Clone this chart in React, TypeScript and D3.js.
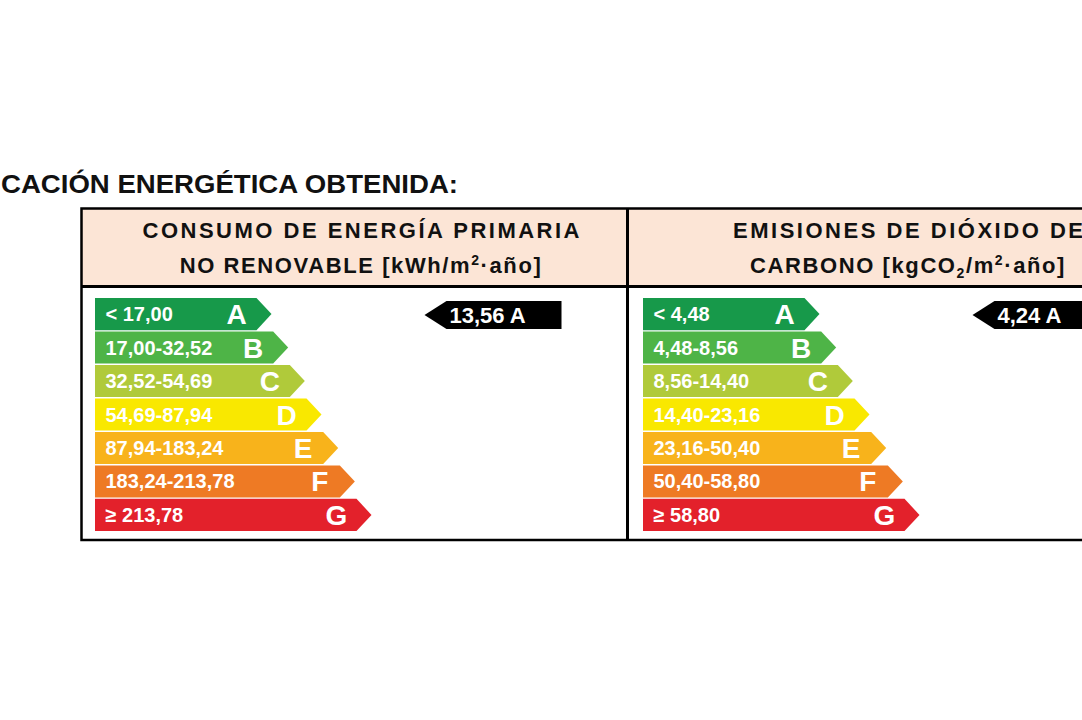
import React, { useEffect, useRef } from 'react';
import * as d3 from 'd3';

// Energy classes, from best to worst
const classes = ['A', 'B', 'C', 'D', 'E', 'F', 'G'];
const classColors = ['#17994a', '#4eb447', '#b0ca3a', '#f9e800', '#f8b31b', '#ee7a24', '#e3212b'];

const energyRanges = ['< 17,00', '17,00-32,52', '32,52-54,69', '54,69-87,94', '87,94-183,24', '183,24-213,78', '≥ 213,78'];
const co2Ranges = ['< 4,48', '4,48-8,56', '8,56-14,40', '14,40-23,16', '23,16-50,40', '50,40-58,80', '≥ 58,80'];

const energyValue = '13,56';
const energyClass = 'A';
const co2Value = '4,24';
const co2Class = 'A';

const titleText = 'CACIÓN ENERGÉTICA OBTENIDA:';

// header lines: [text, 'n' | 'sup' | 'sub']
const energyHeader: [string, string][][] = [
  [['CONSUMO DE ENERGÍA PRIMARIA', 'n']],
  [['NO RENOVABLE [kWh/m', 'n'], ['2', 'sup'], ['·año]', 'n']],
];
const co2Header: [string, string][][] = [
  [['EMISIONES DE DIÓXIDO DE', 'n']],
  [['CARBONO [kgCO', 'n'], ['2', 'sub'], ['/m', 'n'], ['2', 'sup'], ['·año]', 'n']],
];

const FONT = '"Liberation Sans", Arial, sans-serif';

export default function App() {
  const svgRef = useRef<SVGSVGElement>(null);

  useEffect(() => {
    if (!svgRef.current) return;
    const svg = d3.select(svgRef.current);
    svg.selectAll('*').remove();

    const W = 1082;
    const colW = 548;
    const tableLeft = 81.5;
    const tableTop = 208.5;
    const headerBottom = 286.5;
    const tableBottom = 540;

    // Title
    svg.append('text')
      .attr('x', 1)
      .attr('y', 193)
      .attr('font-family', FONT)
      .attr('font-weight', 'bold')
      .attr('font-size', 26)
      .attr('textLength', 457)
      .attr('lengthAdjust', 'spacingAndGlyphs')
      .attr('fill', '#111')
      .text(titleText);

    // Header background
    svg.append('rect')
      .attr('x', tableLeft).attr('y', tableTop)
      .attr('width', W - tableLeft + 10).attr('height', headerBottom - tableTop)
      .attr('fill', '#fce5d6');

    const y = d3.scaleBand<string>().domain(classes).range([298, 531]).paddingInner(0.04);
    const tip = d3.scaleLinear().domain([0, classes.length - 1]).range([190, 290]);
    const color = d3.scaleOrdinal<string, string>().domain(classes).range(classColors);

    const panels = [
      { x0: tableLeft, header: energyHeader, ranges: energyRanges, value: energyValue, cls: energyClass, center: 361, line1Len: 437 },
      { x0: tableLeft + colW, header: co2Header, ranges: co2Ranges, value: co2Value, cls: co2Class, center: 908, line1Len: 350 },
    ];

    const off = (k: string) => (k === 'sup' ? -8 : k === 'sub' ? 5 : 0);

    panels.forEach(p => {
      // Header text
      p.header.forEach((line, li) => {
        const t = svg.append('text')
          .attr('x', p.center)
          .attr('y', li === 0 ? 238 : 273)
          .attr('text-anchor', 'middle')
          .attr('font-family', FONT)
          .attr('font-weight', 'bold')
          .attr('font-size', 22)
          .attr('fill', '#111');
        if (li === 0) {
          t.attr('textLength', p.line1Len).attr('lengthAdjust', 'spacing').text(line[0][0]);
        } else {
          t.attr('letter-spacing', 1.6);
          line.forEach(([s, kind], i) => {
            const prev = i === 0 ? 'n' : line[i - 1][1];
            const ts = t.append('tspan').text(s).attr('dy', off(kind) - off(prev));
            if (kind !== 'n') ts.attr('font-size', 14);
          });
        }
      });

      // Scale bars
      const g = svg.append('g');
      classes.forEach((c, i) => {
        const top = y(c)!;
        const h = y.bandwidth();
        const left = p.x0 + 13.5;
        const tipX = p.x0 + tip(i);
        const bodyR = tipX - 15;
        g.append('path')
          .attr('d', `M${left},${top}H${bodyR}L${tipX},${top + h / 2}L${bodyR},${top + h}H${left}Z`)
          .attr('fill', color(c));
        g.append('text')
          .attr('x', p.x0 + 24)
          .attr('y', top + h / 2 + 7)
          .attr('font-family', FONT)
          .attr('font-weight', 'bold')
          .attr('font-size', 20)
          .attr('fill', '#fff')
          .text(p.ranges[i]);
        g.append('text')
          .attr('x', tipX - 35)
          .attr('y', top + h / 2 + 10)
          .attr('text-anchor', 'middle')
          .attr('font-family', FONT)
          .attr('font-weight', 'bold')
          .attr('font-size', 28)
          .attr('fill', '#fff')
          .text(c);
      });

      // Rating indicator
      const it = y(p.cls)! + 3;
      const ih = 28;
      const iTip = p.x0 + 343;
      const iCorner = p.x0 + 365;
      const iRight = p.x0 + 480;
      g.append('path')
        .attr('d', `M${iTip},${it + ih / 2}L${iCorner},${it}H${iRight}V${it + ih}H${iCorner}Z`)
        .attr('fill', '#000');
      g.append('text')
        .attr('x', p.x0 + 368)
        .attr('y', it + ih / 2 + 8)
        .attr('font-family', FONT)
        .attr('font-weight', 'bold')
        .attr('font-size', 22)
        .attr('fill', '#fff')
        .text(`${p.value} ${p.cls}`);
    });

    // Table lines
    const lines = svg.append('g').attr('stroke', '#000').attr('fill', 'none');
    lines.append('rect')
      .attr('x', tableLeft).attr('y', tableTop)
      .attr('width', W - tableLeft + 20).attr('height', tableBottom - tableTop)
      .attr('stroke-width', 2.5);
    lines.append('line')
      .attr('x1', tableLeft).attr('x2', W + 10)
      .attr('y1', headerBottom).attr('y2', headerBottom)
      .attr('stroke-width', 3);
    lines.append('line')
      .attr('x1', tableLeft + colW - 2).attr('x2', tableLeft + colW - 2)
      .attr('y1', tableTop).attr('y2', tableBottom)
      .attr('stroke-width', 3);
  }, []);

  return (
    <svg
      ref={svgRef}
      width={1082}
      height={720}
      style={{ position: 'fixed', left: 0, top: 0, background: '#fff' }}
    />
  );
}
